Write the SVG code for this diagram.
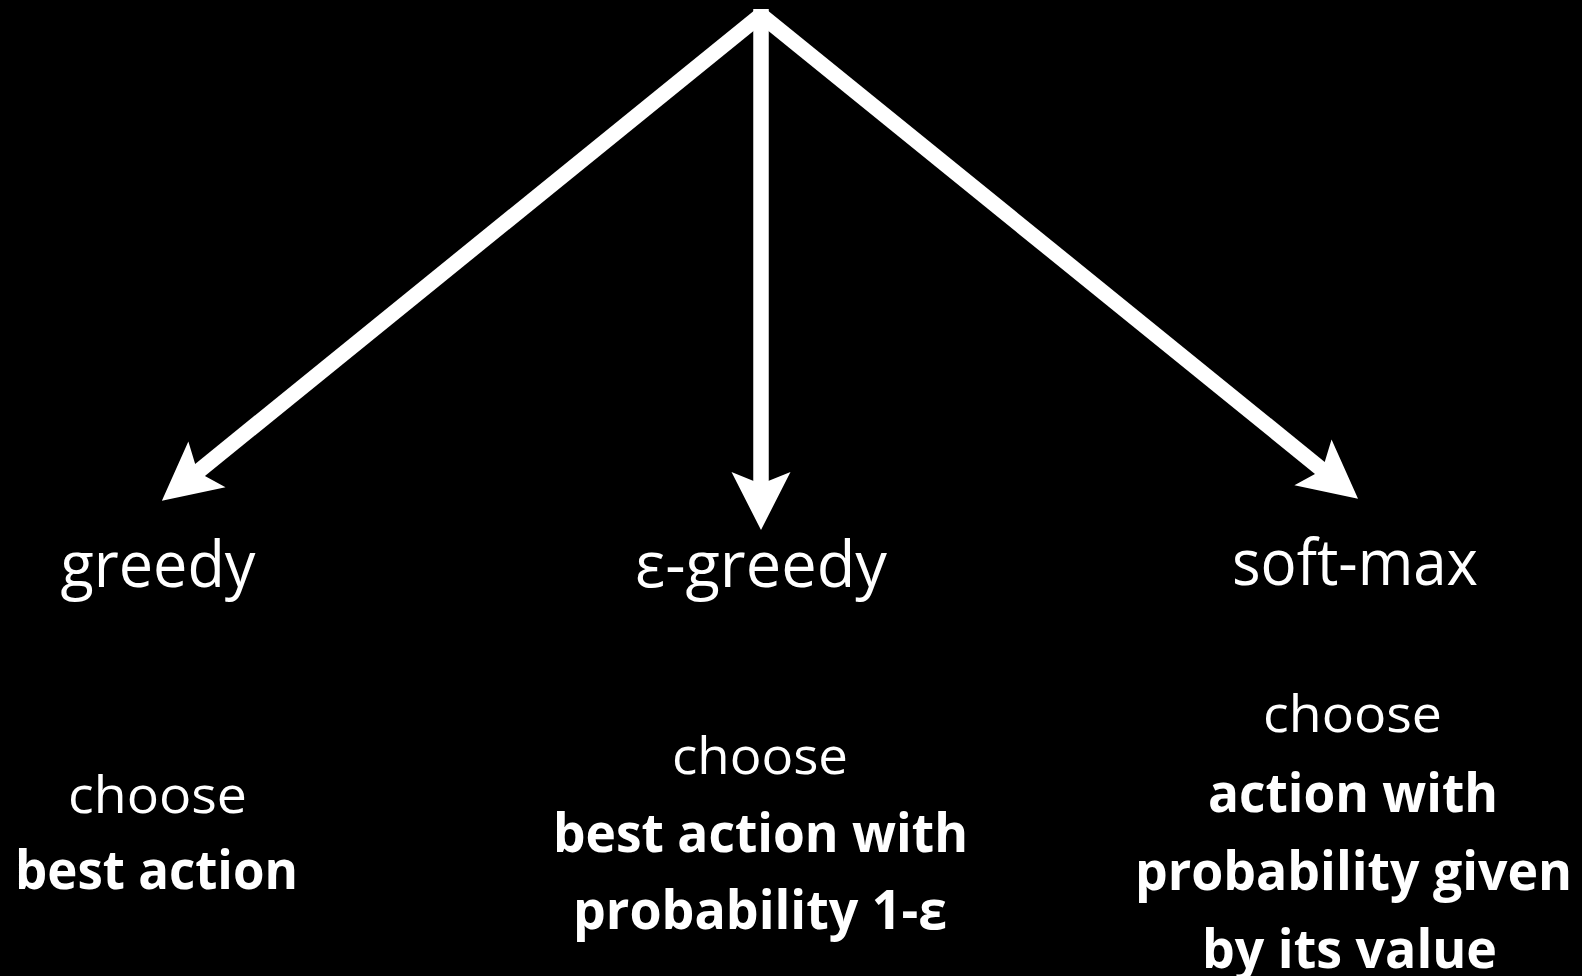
<svg xmlns="http://www.w3.org/2000/svg" width="1582" height="976" viewBox="0 0 1582 976">
  <style>
    .t { fill: #ffffff; font-family: "Open Sans", "Noto Sans", "DejaVu Sans", sans-serif; text-anchor: middle; }
    .title { font-size: 64px; font-weight: 400; }
    .reg { font-size: 52px; font-weight: 400; }
    .bold { font-size: 54px; font-weight: 700; }
    .conn { stroke: #ffffff; stroke-width: 15.5; fill: none; stroke-linecap: butt; }
  </style>
  <defs>
    <marker id="head" markerUnits="userSpaceOnUse" orient="auto" overflow="visible" refX="0" refY="0" markerWidth="1" markerHeight="1">
      <path d="M42,0 L-16,-29.5 L-4,0 L-16,29.5 Z" fill="#ffffff"/>
    </marker>
  </defs>
  <rect x="0" y="0" width="1582" height="976" fill="#000000"/>

  <g id="connectors">
    <line class="conn" x1="761" y1="15" x2="194.5" y2="474.4" marker-end="url(#head)"/>
    <line class="conn" x1="761" y1="15" x2="1325.4" y2="472.4" marker-end="url(#head)"/>
    <line class="conn" x1="761" y1="9" x2="761" y2="488" marker-end="url(#head)"/>
  </g>

  <g id="greedy">
    <text class="t title" x="158" y="587" textLength="195" lengthAdjust="spacingAndGlyphs">greedy</text>
    <text class="t reg" x="157.5" y="813" textLength="179" lengthAdjust="spacingAndGlyphs">choose</text>
    <text class="t bold" x="156.5" y="889" textLength="283" lengthAdjust="spacingAndGlyphs">best action</text>
  </g>

  <g id="epsilon-greedy">
    <text class="t title" x="761" y="587" textLength="252" lengthAdjust="spacingAndGlyphs">ε-greedy</text>
    <text class="t reg" x="760" y="774" textLength="176" lengthAdjust="spacingAndGlyphs">choose</text>
    <text class="t bold" x="760.5" y="852" textLength="415" lengthAdjust="spacingAndGlyphs">best action with</text>
    <text class="t bold" x="760" y="929" textLength="374" lengthAdjust="spacingAndGlyphs">probability 1-ε</text>
  </g>

  <g id="soft-max">
    <text class="t title" x="1355" y="585" textLength="246" lengthAdjust="spacingAndGlyphs">soft-max</text>
    <text class="t reg" x="1352.5" y="732" textLength="179" lengthAdjust="spacingAndGlyphs">choose</text>
    <text class="t bold" x="1353" y="812" textLength="290" lengthAdjust="spacingAndGlyphs">action with</text>
    <text class="t bold" x="1353.5" y="890" textLength="437" lengthAdjust="spacingAndGlyphs">probability given</text>
    <text class="t bold" x="1349.5" y="968" textLength="295" lengthAdjust="spacingAndGlyphs">by its value</text>
  </g>
</svg>
